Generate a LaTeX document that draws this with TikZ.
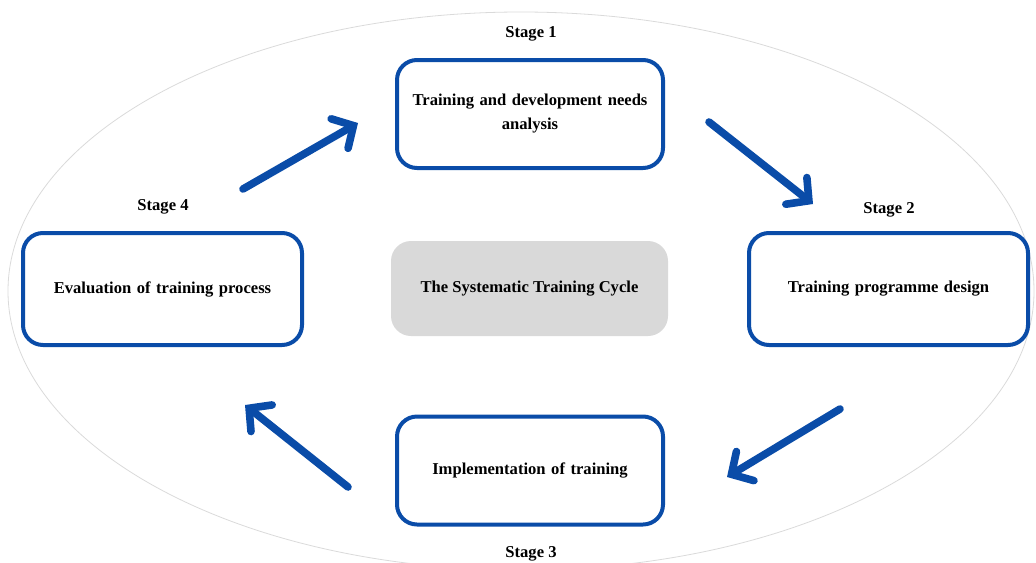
\documentclass[tikz,border=0pt]{standalone}
\usepackage{fontspec}
\setmainfont{Liberation Serif}
\usetikzlibrary{arrows.meta, positioning}
\definecolor{cblue}{HTML}{0A4CA8}
\definecolor{cgrey}{HTML}{D9D9D9}
\definecolor{cline}{HTML}{DADADA}
\tikzset{
  every picture/.style={font=\bfseries\fontsize{8.3}{12}\selectfont},
  stagebox/.style={draw=cblue, line width=2pt, rounded corners=10pt, align=center,
    minimum width=133pt, minimum height=54pt, text width=125pt},
  hubbox/.style={fill=cgrey, rounded corners=10pt, align=center,
    minimum width=138.5pt, minimum height=47.5pt},
  flow/.style={-{Straight Barb[length=8pt, width=17pt, line cap=round]}, draw=cblue,
    line width=3.8pt, line cap=round},
  stagelabel/.style={inner sep=0pt},
}
\begin{document}
\begin{tikzpicture}[x=0.5pt, y=-0.5pt]
  \useasboundingbox (0,0) rectangle (1036,562);
  % backdrop ellipse
  \begin{scope}
    \clip (0,0) rectangle (1036,562);
    \draw[cline, line width=0.4pt] (521,291) ellipse [x radius=256.5pt, y radius=139.5pt];
  \end{scope}
  % the four stages and the hub
  \node[stagebox] (needs) at (530,114) {Training and development needs\\analysis};
  \node[stagebox, minimum width=139.5pt, minimum height=56pt] (design) at (888.5,289) {Training programme design};
  \node[stagebox] (impl) at (530,470.5) {Implementation of training};
  \node[stagebox, minimum width=139.5pt, minimum height=56pt] (eval) at (162.5,289) {Evaluation of training process};
  \node[hubbox] (hub) at (529.5,288.5) {The Systematic Training Cycle};
  \node[stagelabel] (s1) at (531,34) {Stage 1};
  \node[stagelabel] (s2) at (889,210) {Stage 2};
  \node[stagelabel] (s3) at (531,554) {Stage 3};
  \node[stagelabel] (s4) at (163,207) {Stage 4};
  % arrow ends
  \coordinate (a1) at (243,189); \coordinate (b1) at (358,123);
  \coordinate (a2) at (709,122); \coordinate (b2) at (813,204);
  \coordinate (a3) at (840,409); \coordinate (b3) at (727,477);
  \coordinate (a4) at (348,487); \coordinate (b4) at (245,405);
  \foreach \i in {1,...,4} \draw[flow] (a\i) -- (b\i);
\end{tikzpicture}
\end{document}
